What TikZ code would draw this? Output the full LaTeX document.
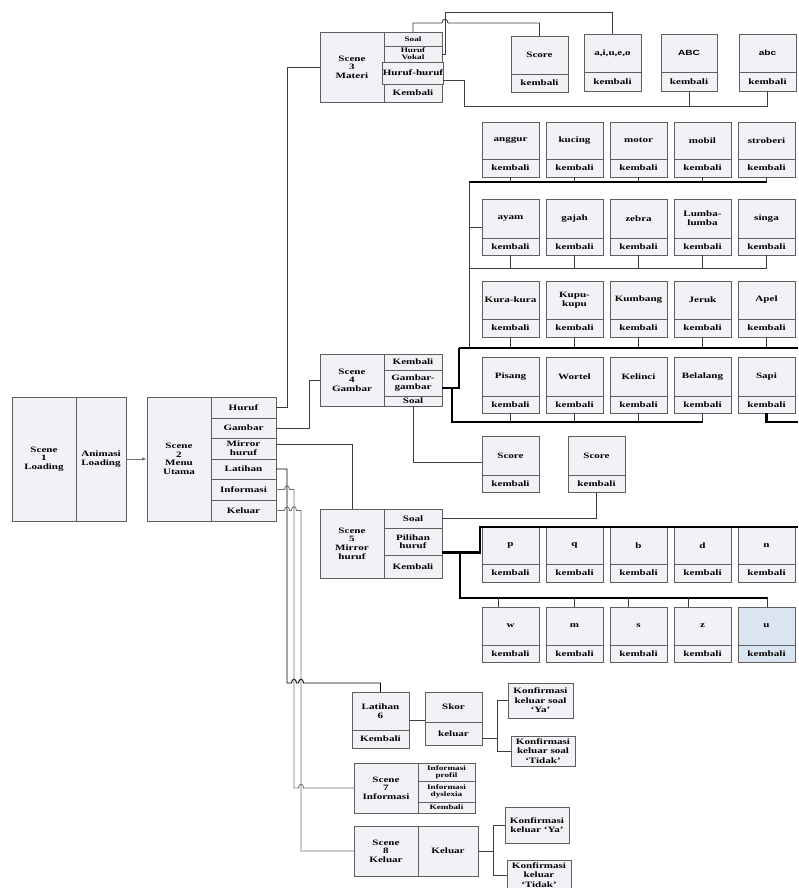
\documentclass[tikz,border=0pt]{standalone}
\usepackage{fontspec}
\setmainfont{Liberation Serif}[FakeStretch=1.35]
\setsansfont{Liberation Sans}[FakeStretch=1.35]
\usepackage{tikz}
\usetikzlibrary{positioning,arrows.meta,shadows}
\definecolor{boxFill}{RGB}{242,241,246}
\definecolor{boxLine}{RGB}{95,95,95}
\definecolor{wireGray}{RGB}{60,60,60}
\definecolor{lightWire}{RGB}{115,115,115}
\definecolor{paleBlue}{RGB}{218,229,241}
\tikzset{
  cellBox/.style={
    rectangle,
    draw=boxLine,
    fill=boxFill,
    line width=0.9pt,
    inner sep=0pt,
    outer sep=0pt,
    anchor=north west,
    align=center,
    drop shadow={shadow xshift=1pt, shadow yshift=-1pt, fill=black!28},
    font=\bfseries\fontsize{8.2}{8.6}\selectfont
  },
  tinyCell/.style={
    cellBox,
    font=\bfseries\fontsize{6.8}{6.8}\selectfont
  },
  konfBox/.style={
    cellBox,
    font=\bfseries\fontsize{8.2}{9.6}\selectfont
  },
  sz/.style 2 args={
    minimum width=#1pt,
    minimum height=#2pt
  },
  wire/.style={
    draw=wireGray,
    line width=0.9pt
  },
  grayWire/.style={
    draw=lightWire,
    line width=0.9pt
  },
  midWire/.style={
    draw=black,
    line width=1.4pt
  },
  boldWire/.style={
    draw=black,
    line width=2.2pt
  },
  arrowLine/.style={
    -{Latex[length=5pt,width=3.5pt]},
    draw=lightWire,
    line width=0.9pt
  }
}
\begin{document}
\begin{tikzpicture}[x=1pt, y=-1pt]
\useasboundingbox (0,0) rectangle (798,888);

% scene 1 and 2
\node[cellBox, sz={64}{124}] (scene1) at (12,397) {Scene\\1\\Loading};
\node[cellBox, sz={50}{124}] (anim) at (scene1.north east) {Animasi\\Loading};
\node[cellBox, sz={64}{124}] (scene2) at (147,397) {Scene\\2\\Menu\\Utama};
\node[cellBox, sz={65}{21}] (mHuruf) at (scene2.north east) {Huruf};
\node[cellBox, sz={65}{20}, below=0pt of mHuruf] (mGambar) {Gambar};
\node[cellBox, sz={65}{21}, below=0pt of mGambar] (mMirror) {Mirror\\huruf};
\node[cellBox, sz={65}{20}, below=0pt of mMirror] (mLatihan) {Latihan};
\node[cellBox, sz={65}{21}, below=0pt of mLatihan] (mInfo) {Informasi};
\node[cellBox, sz={65}{21}, below=0pt of mInfo] (mKeluar) {Keluar};

% scene 3
\node[cellBox, sz={64}{70}] (scene3) at (320,32) {Scene\\3\\Materi};
\node[tinyCell, sz={58}{14}] (m3Soal) at (scene3.north east) {Soal};
\node[tinyCell, sz={58}{16}, below=0pt of m3Soal] (m3Vokal) {Huruf\\Vokal};
\node[cellBox, sz={58}{22}, below=0pt of m3Vokal] (m3Huruf) {Huruf-huruf};
\node[cellBox, sz={58}{18}, below=0pt of m3Huruf] (m3Back) {Kembali};

\node[cellBox, sz={57}{38}] (score3) at (511,36) {Score};
\node[cellBox, sz={57}{18}, below=0pt of score3] (score3K) {kembali};
\node[cellBox, sz={57}{38}] (aiueo) at (584,34) {a,i,u,e,o};
\node[cellBox, sz={57}{19}, below=0pt of aiueo] (aiueoK) {kembali};
\node[cellBox, sz={56}{38}, font=\sffamily\bfseries\fontsize{7.5}{8}\selectfont] (bigABC) at (661,34) {ABC};
\node[cellBox, sz={56}{19}, below=0pt of bigABC] (bigABCK) {kembali};
\node[cellBox, sz={57}{38}, font=\sffamily\bfseries\fontsize{7.5}{8}\selectfont] (lowABC) at (739,34) {abc};
\node[cellBox, sz={57}{19}, below=0pt of lowABC] (lowABCK) {kembali};

% scene 4 with the pictures
\node[cellBox, sz={64}{52}] (scene4) at (320,354) {Scene\\4\\Gambar};
\node[cellBox, sz={58}{16}] (g4Back) at (scene4.north east) {Kembali};
\node[cellBox, sz={58}{26}, below=0pt of g4Back] (g4Pics) {Gambar-\\gambar};
\node[cellBox, sz={58}{10}, below=0pt of g4Pics] (g4Soal) {Soal};

\foreach \nm/\lbl [count=\i from 0] in {anggur/anggur, kucing/kucing, motor/motor, mobil/mobil, stroberi/stroberi}{
  \node[cellBox, sz={57}{37}] (\nm) at (482+64*\i,122) {\lbl};
  \node[cellBox, sz={57}{18}, below=0pt of \nm] (\nm K) {kembali};
}
\foreach \nm/\lbl [count=\i from 0] in {ayam/ayam, gajah/gajah, zebra/zebra, lumba/{Lumba-\\lumba}, singa/singa}{
  \node[cellBox, sz={57}{39}] (\nm) at (482+64*\i,199) {\lbl};
  \node[cellBox, sz={57}{17}, below=0pt of \nm] (\nm K) {kembali};
}
\foreach \nm/\lbl [count=\i from 0] in {kura/Kura-kura, kupu/{Kupu-\\kupu}, kumbang/Kumbang, jeruk/Jeruk, apel/Apel}{
  \node[cellBox, sz={57}{38}] (\nm) at (482+64*\i,281) {\lbl};
  \node[cellBox, sz={57}{18}, below=0pt of \nm] (\nm K) {kembali};
}
\foreach \nm/\lbl [count=\i from 0] in {pisang/Pisang, wortel/Wortel, kelinci/Kelinci, belalang/Belalang, sapi/Sapi}{
  \node[cellBox, sz={57}{39}] (\nm) at (482+64*\i,357) {\lbl};
  \node[cellBox, sz={57}{17}, below=0pt of \nm] (\nm K) {kembali};
}

\node[cellBox, sz={57}{39}] (scoreA) at (482,436) {Score};
\node[cellBox, sz={57}{17}, below=0pt of scoreA] (scoreAK) {kembali};
\node[cellBox, sz={57}{39}] (scoreB) at (568,436) {Score};
\node[cellBox, sz={57}{17}, below=0pt of scoreB] (scoreBK) {kembali};

% scene 5 with the letters
\node[cellBox, sz={64}{69}] (scene5) at (320,509) {Scene\\5\\Mirror\\huruf};
\node[cellBox, sz={58}{19}] (m5Soal) at (scene5.north east) {Soal};
\node[cellBox, sz={58}{27}, below=0pt of m5Soal] (m5Pilih) {Pilihan\\huruf};
\node[cellBox, sz={58}{23}, below=0pt of m5Pilih] (m5Back) {Kembali};

\foreach \nm [count=\i from 0] in {p,q,b,d,n}{
  \node[cellBox, sz={57}{37}] (let\nm) at (482+64*\i,527) {\nm};
  \node[cellBox, sz={57}{18}, below=0pt of let\nm] (let\nm K) {kembali};
}
\foreach \nm/\fc [count=\i from 0] in {w/boxFill, m/boxFill, s/boxFill, z/boxFill, u/paleBlue}{
  \node[cellBox, fill=\fc, sz={57}{38}] (let\nm) at (482+64*\i,607) {\nm};
  \node[cellBox, fill=\fc, sz={57}{17}, below=0pt of let\nm] (let\nm K) {kembali};
}

% latihan, informasi, keluar
\node[cellBox, sz={57}{38}] (lat6) at (352,692) {Latihan\\6};
\node[cellBox, sz={57}{18}, below=0pt of lat6] (lat6Back) {Kembali};
\node[cellBox, sz={57}{30}] (skor) at (425,692) {Skor};
\node[cellBox, sz={57}{23}, below=0pt of skor] (skorOut) {keluar};
\node[konfBox, sz={65}{35}] (konfSoalYa) at (508,683) {Konfirmasi\\keluar soal\\‘Ya’};
\node[konfBox, sz={64}{30}] (konfSoalNo) at (511,736) {Konfirmasi\\keluar soal\\‘Tidak’};

\node[cellBox, sz={64}{50}] (scene7) at (354,763) {Scene\\7\\Informasi};
\node[tinyCell, sz={57}{18}] (i7Profil) at (scene7.north east) {Informasi\\profil};
\node[tinyCell, sz={57}{21}, below=0pt of i7Profil] (i7Dys) {Informasi\\dyslexia};
\node[tinyCell, sz={57}{11}, below=0pt of i7Dys] (i7Back) {Kembali};

\node[cellBox, sz={64}{50}] (scene8) at (354,826) {Scene\\8\\Keluar};
\node[cellBox, sz={60}{50}] (s8Out) at (scene8.north east) {Keluar};
\node[konfBox, sz={64}{36}] (konfYa) at (505,807) {Konfirmasi\\keluar ‘Ya’};
\node[konfBox, sz={64}{30}] (konfNo) at (507,860) {Konfirmasi\\keluar\\‘Tidak’};

% main menu links
\draw[arrowLine] (anim) -- (scene2);
\draw[wire] (mHuruf.east) -- ++(11,0) |- (scene3.west);
\draw[wire] (mGambar.east) -- ++(33,0) |- (scene4.west);
\draw[wire] ([yshift=4pt]mMirror.east) -| (scene5.north);
\draw[draw=black, line width=0.9pt] (mLatihan.east) -- (287,469) -- (287,683) -- (291.5,683)
  .. controls (291.5,678) and (296.5,678) .. (296.5,683) -- (298.5,683)
  .. controls (298.5,678) and (303.5,678) .. (303.5,683) -| (lat6.north);
\draw[grayWire] (mInfo.east) -- (284.5,489.5)
  .. controls (284.5,484.5) and (289.5,484.5) .. (289.5,489.5) -- (294,489.5) -- (294,788) -- (298.5,788)
  .. controls (298.5,783) and (303.5,783) .. (303.5,788) -- (scene7.west);
\draw[grayWire] (mKeluar.east) -- (284.5,510.5)
  .. controls (284.5,505.5) and (289.5,505.5) .. (289.5,510.5) -- (291.5,510.5)
  .. controls (291.5,505.5) and (296.5,505.5) .. (296.5,510.5) -- (301,510.5) |- (scene8.west);

% materi links
\draw[wire] (m3Soal.north) -- (413,23) -- (442,23)
  .. controls (442,18) and (448,18) .. (448,23) -| (score3.north);
\draw[wire] (m3Vokal.east) -- (445,54) -- (445,12) -| (aiueo.north);
\draw[wire] ([yshift=-7pt]m3Huruf.east) -| (464,106) -| (lowABCK.south);
\draw[wire] (bigABCK.south) -- (bigABCK.south |- 0,106);

% gambar links
\coordinate (gBusA) at (469,182);
\coordinate (gBusB) at (469,268);
\coordinate (gBusC) at (459,348);
\coordinate (gBusD) at (452,422);
\draw[midWire] (gBusA) -- (gBusA -| stroberiK.south);
\draw[wire] (gBusB) -- (gBusB -| singaK.south);
\draw[wire] (gBusA) -- (469,348);
\draw[wire] (469,227) -- (ayam.west |- 0,227);
\foreach \nm in {anggur,kucing,motor,mobil,stroberi}
  \draw[wire] (\nm K.south) -- (\nm K.south |- gBusA);
\foreach \nm in {ayam,gajah,zebra,lumba,singa}
  \draw[wire] (\nm K.south) -- (\nm K.south |- gBusB);
\foreach \nm in {kura,kupu,kumbang,jeruk,apel}
  \draw[wire] (\nm K.south) -- (\nm K.south |- gBusC);
\foreach \nm in {pisang,wortel,kelinci,belalang}
  \draw[wire] (\nm K.south) -- (\nm K.south |- gBusD);
\draw[boldWire] (gBusC) -- (798,348);
\draw[boldWire] ([yshift=-5pt]g4Pics.east) -- (459,388) -- (gBusC);
\draw[boldWire] (452,388) -- (gBusD) -- (gBusD -| belalangK.south);
\draw[boldWire] (sapiK.south) |- (798,422);
\draw[wire] (g4Soal.south) |- ([yshift=-7pt]scoreA.west);
\draw[wire] (scoreBK.south) |- (m5Soal.east);

% huruf links
\coordinate (letBusA) at (480,527);
\coordinate (letBusB) at (460,598);
\draw[boldWire] ([yshift=-11pt]m5Pilih.east) -| (letBusA) -- (798,527);
\draw[boldWire] (460,552.5) -- (letBusB) -- (768,598);
\foreach \nm/\dx in {w/-12, m/0, s/-10, z/-14, u/1}{
  \coordinate (\nm Tap) at ([xshift=\dx pt]let\nm.north);
  \draw[wire] (\nm Tap) -- (\nm Tap |- letBusB);
}

% latihan and keluar links
\draw[wire] (lat6.east |- 0,720) -- (skor.west |- 0,720);
\draw[wire] ([yshift=-5pt]skorOut.east) -- ++(15,0);
\draw[wire] (konfSoalYa.west) -- ++(-11,0) |- (konfSoalNo.west);
\draw[wire] (s8Out.east) -- ++(15,0);
\draw[wire] (konfYa.west) -- ++(-12,0) |- (konfNo.west);
\end{tikzpicture}
\end{document}
